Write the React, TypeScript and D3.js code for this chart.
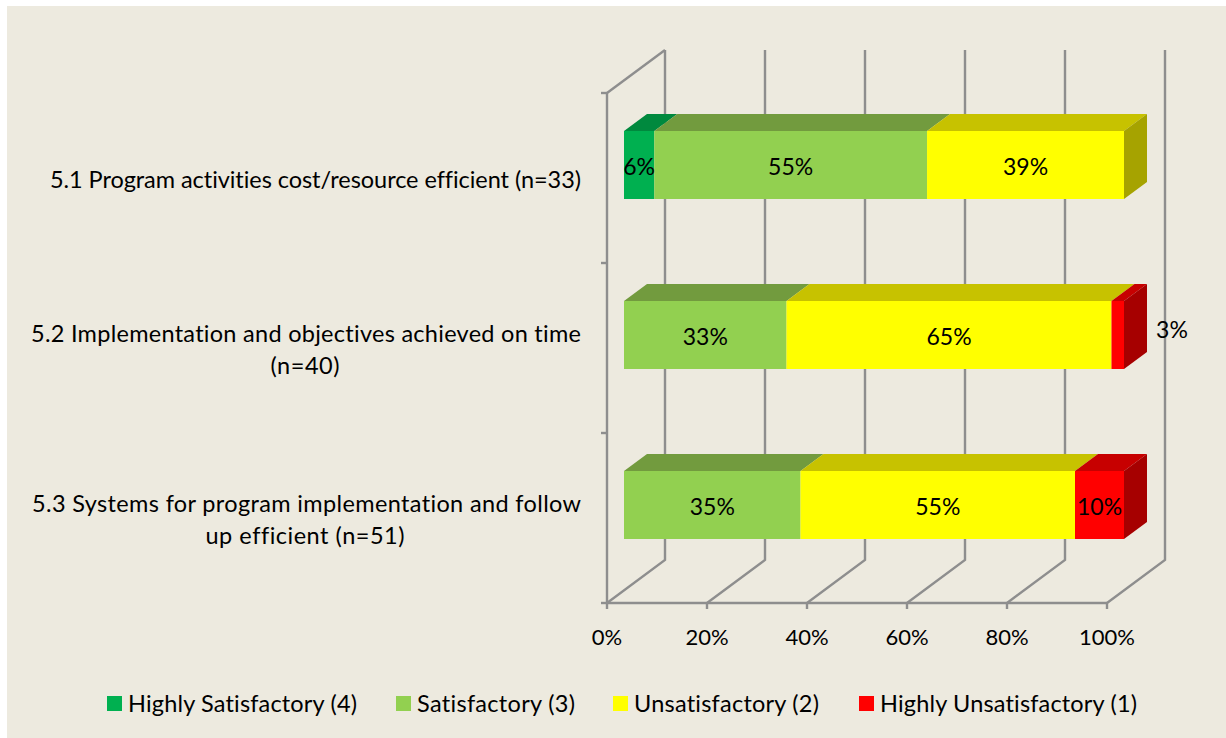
import React from 'react';
import * as d3 from 'd3';

const categories = ['5.1', '5.2', '5.3'];
const categoryLines = [
  ['5.1 Program activities cost/resource efficient (n=33)'],
  ['5.2 Implementation and objectives achieved on time', '(n=40)'],
  ['5.3 Systems for program implementation and follow', 'up efficient (n=51)'],
];
const seriesNames = [
  'Highly Satisfactory (4)',
  'Satisfactory (3)',
  'Unsatisfactory (2)',
  'Highly Unsatisfactory (1)',
];
const highlySatisfactory = [6.06, 0, 0];
const satisfactory = [54.55, 32.5, 35.3];
const unsatisfactory = [39.39, 65, 54.9];
const highlyUnsatisfactory = [0, 2.5, 9.8];
const xTicks = [0, 20, 40, 60, 80, 100];

const series = [highlySatisfactory, satisfactory, unsatisfactory, highlyUnsatisfactory];
const front = ['#00B050', '#92D050', '#FFFF00', '#FF0000'];
const top = ['#00893E', '#729B3E', '#C7C200', '#C70000'];
const side = ['#007435', '#618535', '#A6A300', '#A60000'];
const legendX = [107, 396, 613, 859];
// Lato is not Calibri, so the text is fitted to the widths measured on the reference
const categoryWidths = [[531], [550, 69], [549, 199]];
const legendWidths = [229, 158, 185, 257];

const GRID = '#8E8E8E';
const FONT = 'Lato, sans-serif';

// plot box in the front plane, wall depth and bar depth
const x = d3.scaleLinear().domain([0, 100]).range([607, 1107]);
const y = d3.scaleBand().domain(categories).range([93, 603]);
const wallDx = 58;
const wallDy = -43;
const barOffsetX = 17;
const barOffsetY = -13;
const barDx = 23;
const barDy = -17;
const barHeight = 68;

const poly = (pts: number[][]) => pts.map((p) => p.join(',')).join(' ');

export default function App() {
  const floorY = y.range()[1];
  const topY = y.range()[0];
  const bars = categories.map((c, i) => {
    const yTop = (y(c) as number) + y.bandwidth() / 2 + barOffsetY - barHeight / 2;
    let acc = 0;
    const segs = series.map((s, j) => {
      const start = acc;
      acc += s[i];
      return { j, value: s[i], x0: x(start) + barOffsetX, x1: x(acc) + barOffsetX };
    });
    return { c, yTop, segs: segs.filter((s) => s.value > 0) };
  });

  return (
    <svg
      width={1226}
      height={738}
      style={{ position: 'absolute', left: 0, top: 0, display: 'block', fontVariantLigatures: 'none' }}
      fontFamily={FONT}
    >
      <rect width={1226} height={738} fill="#fff" />
      <rect x={7} y={6} width={1219} height={732} fill="#EDEADF" />

      {/* walls and gridlines */}
      <g stroke={GRID} strokeWidth={2.4} fill="none">
        <line x1={x(0)} x2={x(0)} y1={topY} y2={floorY} />
        <line x1={x(0)} x2={x(100)} y1={floorY} y2={floorY} />
        {xTicks.map((t) => (
          <g key={t}>
            <polyline
              points={poly([
                [x(t), floorY],
                [x(t) + wallDx, floorY + wallDy],
                [x(t) + wallDx, topY + wallDy],
              ])}
            />
            <line x1={x(t)} x2={x(t)} y1={floorY} y2={floorY + 6} />
          </g>
        ))}
        <line x1={x(0)} x2={x(0) + wallDx} y1={topY} y2={topY + wallDy} />
        {[...categories.map((c) => y(c) as number), floorY].map((v) => (
          <g key={v}>
            <line x1={x(0) - 6} x2={x(0)} y1={v} y2={v} />
          </g>
        ))}
      </g>

      {/* bars */}
      {bars.map((b) => (
        <g key={b.c}>
          {b.segs.map((s) => (
            <polygon
              key={'top' + s.j}
              fill={top[s.j]}
              points={poly([
                [s.x0, b.yTop],
                [s.x1, b.yTop],
                [s.x1 + barDx, b.yTop + barDy],
                [s.x0 + barDx, b.yTop + barDy],
              ])}
            />
          ))}
          {b.segs.slice(-1).map((s) => (
            <polygon
              key="side"
              fill={side[s.j]}
              points={poly([
                [s.x1, b.yTop],
                [s.x1 + barDx, b.yTop + barDy],
                [s.x1 + barDx, b.yTop + barDy + barHeight],
                [s.x1, b.yTop + barHeight],
              ])}
            />
          ))}
          {b.segs.map((s) => (
            <rect
              key={'front' + s.j}
              x={s.x0}
              y={b.yTop}
              width={s.x1 - s.x0}
              height={barHeight}
              fill={front[s.j]}
            />
          ))}
        </g>
      ))}

      {/* data labels */}
      <g fontSize={23} fill="#000" textAnchor="middle">
        {bars.map((b) =>
          b.segs.map((s) => {
            // the thin 3% slice has its label pulled outside the bar
            const outside = s.value < 3;
            return (
              <text
                key={b.c + s.j}
                x={outside ? s.x1 + 48 : (s.x0 + s.x1) / 2}
                y={b.yTop + (outside ? 37 : 44)}
              >
                {Math.round(s.value)}%
              </text>
            );
          }),
        )}
      </g>

      {/* category labels */}
      <g fontSize={23.5} fill="#000">
        {categories.map((c, i) => {
          const cy = (y(c) as number) + y.bandwidth() / 2;
          const lines = categoryLines[i];
          return lines.map((line, k) => (
            <text
              key={c + k}
              x={k === 0 ? 581 : 305}
              textAnchor={k === 0 ? 'end' : 'middle'}
              y={cy + 10 + (k - (lines.length - 1) / 2) * 32}
              textLength={categoryWidths[i][k]}
            >
              {line}
            </text>
          ));
        })}
      </g>

      {/* x tick labels */}
      <g fontSize={22} fill="#000" textAnchor="middle">
        {xTicks.map((t) => (
          <text key={t} x={x(t)} y={645}>
            {t}%
          </text>
        ))}
      </g>

      {/* legend */}
      <g fontSize={23.5} fill="#000">
        {seriesNames.map((name, i) => (
          <g key={name}>
            <rect x={legendX[i]} y={696} width={15} height={15} fill={front[i]} />
            <text x={legendX[i] + 21} y={712} textLength={legendWidths[i]}>
              {name}
            </text>
          </g>
        ))}
      </g>
    </svg>
  );
}
